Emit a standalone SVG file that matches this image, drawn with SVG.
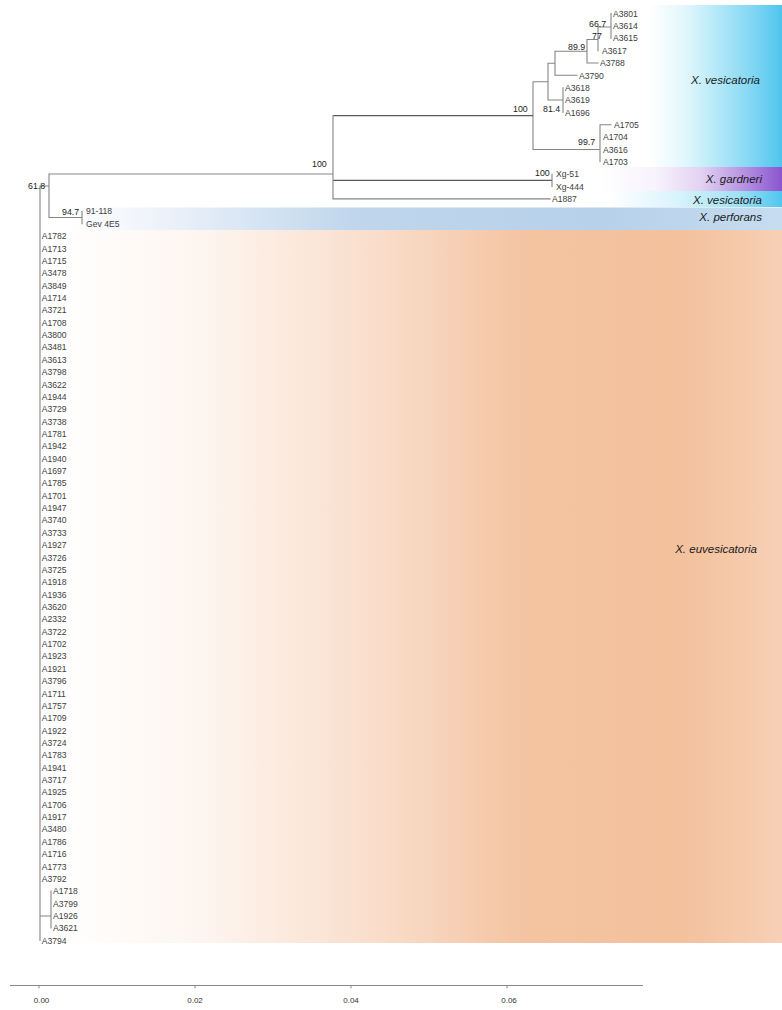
<svg xmlns="http://www.w3.org/2000/svg" width="782" height="1010" viewBox="0 0 782 1010">
<style>
.br{fill:none;stroke:#858585;stroke-width:1.1;stroke-linecap:square}
.brd{fill:none;stroke:#5a5a5a;stroke-width:1.4}
.lf{font-family:"Liberation Sans",Arial,sans-serif;font-size:8.6px;fill:#404040}
.bs{font-family:"Liberation Sans",Arial,sans-serif;font-size:8.8px;fill:#222}
.cl{font-family:"Liberation Sans",Arial,sans-serif;font-size:11.5px;font-style:italic;fill:#1a1a1a;text-anchor:end}
.ax{font-family:"Liberation Sans",Arial,sans-serif;font-size:8px;fill:#333;text-anchor:middle}
</style>
<defs>
<linearGradient id="gVes" gradientUnits="userSpaceOnUse" x1="650" y1="0" x2="782" y2="0">
<stop offset="0" stop-color="#ffffff"/><stop offset="0.28" stop-color="#e0f6fc"/><stop offset="0.53" stop-color="#b0e7f8"/><stop offset="0.78" stop-color="#80d6f3"/><stop offset="1" stop-color="#4ec5ee"/>
</linearGradient>
<linearGradient id="gGar" gradientUnits="userSpaceOnUse" x1="600" y1="0" x2="782" y2="0">
<stop offset="0" stop-color="#ffffff"/><stop offset="0.3" stop-color="#f8f3fc"/><stop offset="0.55" stop-color="#e3d3f3"/><stop offset="0.82" stop-color="#b08ae0"/><stop offset="1" stop-color="#8a55cf"/>
</linearGradient>
<linearGradient id="gVes2" gradientUnits="userSpaceOnUse" x1="610" y1="0" x2="782" y2="0">
<stop offset="0" stop-color="#ffffff"/><stop offset="0.4" stop-color="#d8f3fc"/><stop offset="0.75" stop-color="#9fe0f6"/><stop offset="1" stop-color="#4fc6ee"/>
</linearGradient>
<linearGradient id="gPer" gradientUnits="userSpaceOnUse" x1="70" y1="0" x2="782" y2="0">
<stop offset="0" stop-color="#ffffff"/><stop offset="0.12" stop-color="#eef3fa"/><stop offset="0.4" stop-color="#bfd6ec"/><stop offset="0.75" stop-color="#b7d1ea"/><stop offset="1" stop-color="#c6dcf0"/>
</linearGradient>
<linearGradient id="gEuv" gradientUnits="userSpaceOnUse" x1="60" y1="0" x2="782" y2="0">
<stop offset="0" stop-color="#ffffff"/><stop offset="0.2" stop-color="#fdf5ef"/><stop offset="0.45" stop-color="#f9dcc9"/><stop offset="0.65" stop-color="#f4c3a0"/><stop offset="0.86" stop-color="#f3c19c"/><stop offset="1" stop-color="#f7d0b6"/>
</linearGradient>
</defs>
<rect width="782" height="1010" fill="#ffffff"/>
<g id="bands">
<rect x="650" y="5" width="132" height="162" fill="url(#gVes)"/>
<rect x="600" y="167" width="182" height="24" fill="url(#gGar)"/>
<rect x="610" y="191" width="172" height="16" fill="url(#gVes2)"/>
<rect x="70" y="207.5" width="712" height="22.5" fill="url(#gPer)"/>
<rect x="60" y="230" width="722" height="713" fill="url(#gEuv)"/>
</g>
<g id="clade-labels">
<text id="lbl-vesicatoria" class="cl" x="760" y="84">X. vesicatoria</text>
<text id="lbl-gardneri" class="cl" x="762" y="183">X. gardneri</text>
<text id="lbl-vesicatoria2" class="cl" x="762" y="204">X. vesicatoria</text>
<text id="lbl-perforans" class="cl" x="762" y="221">X. perforans</text>
<text id="lbl-euvesicatoria" class="cl" x="757" y="553">X. euvesicatoria</text>
</g>
<g id="connectors">
<path class="br" d="M611,13.5V38.2 M598,27H611 M598,27V50.6 M587,39.5H598 M587,39.5V63 M587,63H598 M555,51.3H587 M555,51.3V75.3 M555,75.3H577 M548,63.3H555 M548,63.3V100 M548,100H563 M563,87.7V112.4 M533,81.7H548 M533,81.7V149.5 M533,149.5H600 M600,124.7V161.8 M600,124.7H611"/>
<path class="brd" d="M333,115.6H533 M333,180.4H552"/>
<path class="br" d="M333,115.6V198.9 M552,174.2V186.5 M333,198.9H550 M49,174H333 M49,174V217.5 M49,217.5H82 M82,211.3V223.6 M40,186H49 M40,186V940.5 M40,916H51 M51,891V928"/>
</g>
<g id="support">
<text class="bs" x="589" y="26.5">66.7</text>
<text class="bs" x="592" y="38.5">77</text>
<text class="bs" x="568" y="49.5">89.9</text>
<text class="bs" x="543" y="112">81.4</text>
<text class="bs" x="513" y="112">100</text>
<text class="bs" x="578" y="145">99.7</text>
<text class="bs" x="312" y="166.5">100</text>
<text class="bs" x="535" y="176">100</text>
<text class="bs" x="28" y="189">61.8</text>
<text class="bs" x="62" y="215">94.7</text>
</g>
<g id="leaves">
<text id="n-A3801" class="lf" x="613" y="16.7">A3801</text>
<text id="n-A3614" class="lf" x="613" y="29.06">A3614</text>
<text id="n-A3615" class="lf" x="613" y="41.42">A3615</text>
<text id="n-A3617" class="lf" x="602" y="53.78">A3617</text>
<text id="n-A3788" class="lf" x="600" y="66.14">A3788</text>
<text id="n-A3790" class="lf" x="579" y="78.5">A3790</text>
<text id="n-A3618" class="lf" x="565" y="90.86">A3618</text>
<text id="n-A3619" class="lf" x="565" y="103.22">A3619</text>
<text id="n-A1696" class="lf" x="565" y="115.58">A1696</text>
<text id="n-A1705" class="lf" x="614" y="127.94">A1705</text>
<text id="n-A1704" class="lf" x="603" y="140.3">A1704</text>
<text id="n-A3616" class="lf" x="603" y="152.66">A3616</text>
<text id="n-A1703" class="lf" x="603" y="165.02">A1703</text>
<text id="n-Xg-51" class="lf" x="556" y="177.38">Xg-51</text>
<text id="n-Xg-444" class="lf" x="556" y="189.74">Xg-444</text>
<text id="n-A1887" class="lf" x="552" y="202.1">A1887</text>
<text id="n-91-118" class="lf" x="86" y="214.46">91-118</text>
<text id="n-Gev4E5" class="lf" x="86" y="226.82">Gev 4E5</text>
<text id="n-A1782" class="lf" x="41.7" y="239.18">A1782</text>
<text id="n-A1713" class="lf" x="41.7" y="251.54">A1713</text>
<text id="n-A1715" class="lf" x="41.7" y="263.9">A1715</text>
<text id="n-A3478" class="lf" x="41.7" y="276.26">A3478</text>
<text id="n-A3849" class="lf" x="41.7" y="288.62">A3849</text>
<text id="n-A1714" class="lf" x="41.7" y="300.98">A1714</text>
<text id="n-A3721" class="lf" x="41.7" y="313.34">A3721</text>
<text id="n-A1708" class="lf" x="41.7" y="325.7">A1708</text>
<text id="n-A3800" class="lf" x="41.7" y="338.06">A3800</text>
<text id="n-A3481" class="lf" x="41.7" y="350.42">A3481</text>
<text id="n-A3613" class="lf" x="41.7" y="362.78">A3613</text>
<text id="n-A3798" class="lf" x="41.7" y="375.14">A3798</text>
<text id="n-A3622" class="lf" x="41.7" y="387.5">A3622</text>
<text id="n-A1944" class="lf" x="41.7" y="399.86">A1944</text>
<text id="n-A3729" class="lf" x="41.7" y="412.22">A3729</text>
<text id="n-A3738" class="lf" x="41.7" y="424.58">A3738</text>
<text id="n-A1781" class="lf" x="41.7" y="436.94">A1781</text>
<text id="n-A1942" class="lf" x="41.7" y="449.3">A1942</text>
<text id="n-A1940" class="lf" x="41.7" y="461.66">A1940</text>
<text id="n-A1697" class="lf" x="41.7" y="474.02">A1697</text>
<text id="n-A1785" class="lf" x="41.7" y="486.38">A1785</text>
<text id="n-A1701" class="lf" x="41.7" y="498.74">A1701</text>
<text id="n-A1947" class="lf" x="41.7" y="511.1">A1947</text>
<text id="n-A3740" class="lf" x="41.7" y="523.46">A3740</text>
<text id="n-A3733" class="lf" x="41.7" y="535.82">A3733</text>
<text id="n-A1927" class="lf" x="41.7" y="548.18">A1927</text>
<text id="n-A3726" class="lf" x="41.7" y="560.54">A3726</text>
<text id="n-A3725" class="lf" x="41.7" y="572.9">A3725</text>
<text id="n-A1918" class="lf" x="41.7" y="585.26">A1918</text>
<text id="n-A1936" class="lf" x="41.7" y="597.62">A1936</text>
<text id="n-A3620" class="lf" x="41.7" y="609.98">A3620</text>
<text id="n-A2332" class="lf" x="41.7" y="622.34">A2332</text>
<text id="n-A3722" class="lf" x="41.7" y="634.7">A3722</text>
<text id="n-A1702" class="lf" x="41.7" y="647.06">A1702</text>
<text id="n-A1923" class="lf" x="41.7" y="659.42">A1923</text>
<text id="n-A1921" class="lf" x="41.7" y="671.78">A1921</text>
<text id="n-A3796" class="lf" x="41.7" y="684.14">A3796</text>
<text id="n-A1711" class="lf" x="41.7" y="696.5">A1711</text>
<text id="n-A1757" class="lf" x="41.7" y="708.86">A1757</text>
<text id="n-A1709" class="lf" x="41.7" y="721.22">A1709</text>
<text id="n-A1922" class="lf" x="41.7" y="733.58">A1922</text>
<text id="n-A3724" class="lf" x="41.7" y="745.94">A3724</text>
<text id="n-A1783" class="lf" x="41.7" y="758.3">A1783</text>
<text id="n-A1941" class="lf" x="41.7" y="770.66">A1941</text>
<text id="n-A3717" class="lf" x="41.7" y="783.02">A3717</text>
<text id="n-A1925" class="lf" x="41.7" y="795.38">A1925</text>
<text id="n-A1706" class="lf" x="41.7" y="807.74">A1706</text>
<text id="n-A1917" class="lf" x="41.7" y="820.1">A1917</text>
<text id="n-A3480" class="lf" x="41.7" y="832.46">A3480</text>
<text id="n-A1786" class="lf" x="41.7" y="844.82">A1786</text>
<text id="n-A1716" class="lf" x="41.7" y="857.18">A1716</text>
<text id="n-A1773" class="lf" x="41.7" y="869.54">A1773</text>
<text id="n-A3792" class="lf" x="41.7" y="881.9">A3792</text>
<text id="n-A1718" class="lf" x="53" y="894.26">A1718</text>
<text id="n-A3799" class="lf" x="53" y="906.62">A3799</text>
<text id="n-A1926" class="lf" x="53" y="918.98">A1926</text>
<text id="n-A3621" class="lf" x="53" y="931.34">A3621</text>
<text id="n-A3794" class="lf" x="41.7" y="943.7">A3794</text>
</g>
<g id="axis">
<path d="M10,985.5H643 M39,985.5V988.5 M195,985.5V988.5 M351,985.5V988.5 M507,985.5V988.5" fill="none" stroke="#8a8a8a" stroke-width="1"/>
<text class="ax" x="41.5" y="1003">0.00</text>
<text class="ax" x="195" y="1003">0.02</text>
<text class="ax" x="351" y="1003">0.04</text>
<text class="ax" x="509" y="1003">0.06</text>
</g>
</svg>
